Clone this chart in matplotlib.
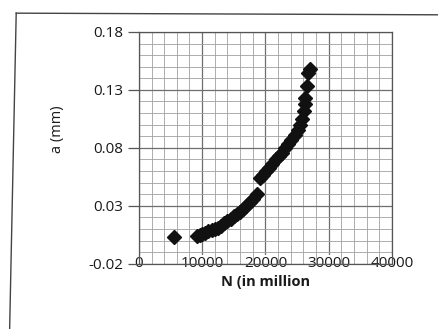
import matplotlib
matplotlib.use('Agg')
import matplotlib.pyplot as plt
from matplotlib.ticker import MultipleLocator, FixedLocator, FormatStrFormatter
from matplotlib.lines import Line2D

# cycles N (in million) and crack length a (mm)
n_cycles = [5500,
            9200, 9600, 10000, 10500, 11000, 11500, 12000, 12500, 13000, 13500,
            14000, 14500, 15000, 15500, 16000, 16500, 17000, 17500, 18000, 18600,
            19100, 19600, 20100, 20600, 21100, 21600, 22100, 22600, 23100, 23600,
            24100, 24600, 25100, 25500, 25800, 26100, 26300, 26300, 26500, 26800, 27000]
crack = [0.003,
         0.004, 0.005, 0.006, 0.007, 0.008, 0.009, 0.010, 0.011, 0.013, 0.015,
         0.017, 0.019, 0.021, 0.023, 0.025, 0.027, 0.030, 0.033, 0.036, 0.040,
         0.054, 0.057, 0.060, 0.063, 0.066, 0.070, 0.073, 0.076, 0.080, 0.083,
         0.087, 0.091, 0.095, 0.100, 0.105, 0.112, 0.118, 0.123, 0.133, 0.145, 0.148]

y_ticks = [-0.02, 0.03, 0.08, 0.13, 0.18]
x_ticks = [0, 10000, 20000, 30000, 40000]

plt.rcParams['font.family'] = ['Open Sans', 'DejaVu Sans']

fig = plt.figure(figsize=(4.38, 3.29), dpi=100)
ax = fig.add_axes([0.317, 0.198, 0.578, 0.705])

ax.plot(n_cycles, crack, linestyle='none', marker='D', markersize=7,
        color='#111111', zorder=3)

ax.set_xlim(0, 40000)
ax.set_ylim(-0.02, 0.18)
ax.xaxis.set_major_locator(FixedLocator(x_ticks))
ax.yaxis.set_major_locator(FixedLocator(y_ticks))
ax.xaxis.set_minor_locator(MultipleLocator(2000))
ax.yaxis.set_minor_locator(MultipleLocator(0.01))
ax.yaxis.set_major_formatter(FormatStrFormatter('%.2f'))

ax.grid(which='major', color='#6e6e6e', linewidth=0.9)
ax.grid(which='minor', color='#a0a0a0', linewidth=0.6)
ax.set_axisbelow(True)

for s in ax.spines.values():
    s.set_color('#555555')
    s.set_linewidth(0.9)

ax.tick_params(axis='y', which='major', length=8, width=0.9, color='#555555',
               labelsize=11, pad=3, labelcolor='#1a1a1a')
ax.tick_params(axis='x', which='major', length=0, labelsize=11,
               pad=-6, labelcolor='#1a1a1a')
ax.tick_params(which='minor', length=0)
for lbl in ax.get_xticklabels():
    lbl.set_bbox(dict(facecolor='white', edgecolor='none', pad=0.5))
    lbl.set_zorder(5)

ax.set_xlabel('N (in million', fontsize=10.5, fontweight='bold', color='#1a1a1a', labelpad=3)
ax.set_ylabel('a (mm)', fontsize=10.5, color='#1a1a1a')
ax.yaxis.set_label_coords(-0.29, 0.58)

# outer chart frame (top and left edges visible in the scan)
fig.add_artist(Line2D([0.037, 1.0], [0.96, 0.955], transform=fig.transFigure,
                      color='#444444', linewidth=1.0))
fig.add_artist(Line2D([0.037, 0.022], [0.96, 0.0], transform=fig.transFigure,
                      color='#444444', linewidth=1.0))

plt.savefig('out.png', dpi=100)
